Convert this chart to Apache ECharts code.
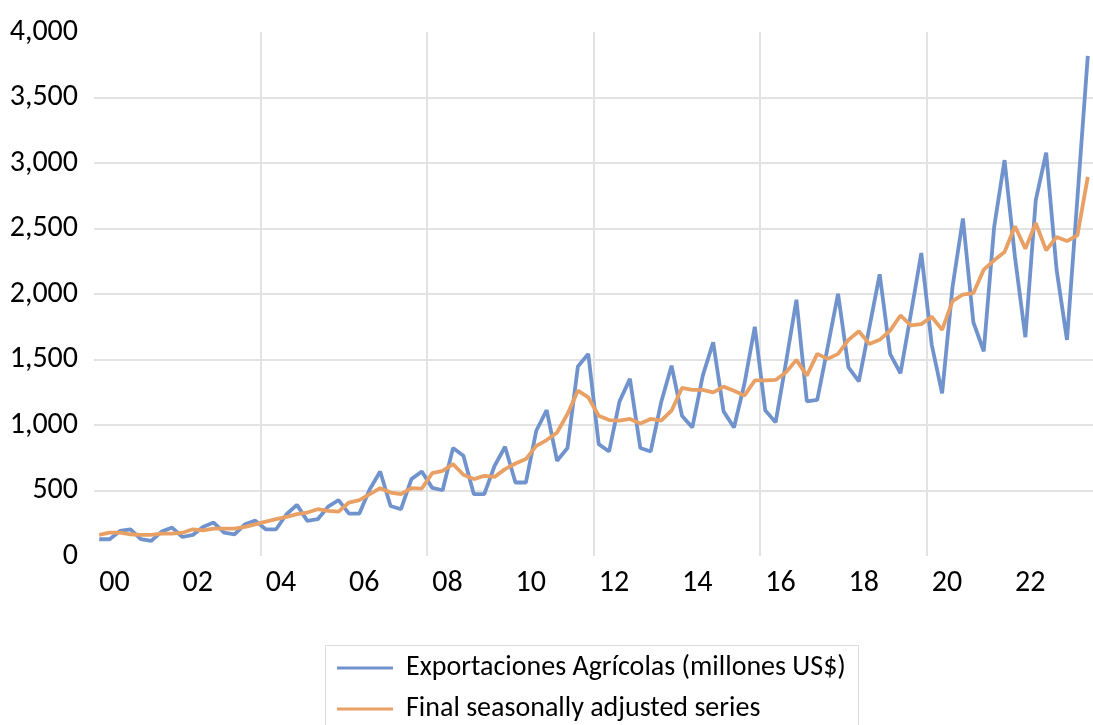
<!DOCTYPE html>
<html>
<head>
<meta charset="utf-8">
<title>Exportaciones Agrícolas</title>
<script src="https://cdn.jsdelivr.net/npm/echarts@6/dist/echarts.min.js"></script>
<style>
  html, body { margin: 0; padding: 0; background: #fff; }
  #chart { width: 1093px; height: 725px; }
</style>
</head>
<body>
<div id="chart"></div>
<script>
// quarters 2000Q1 .. 2023Q4
const years = ["00", "01", "02", "03", "04", "05", "06", "07", "08", "09", "10", "11",
  "12", "13", "14", "15", "16", "17", "18", "19", "20", "21", "22", "23"];
const quarters = [];
years.forEach(y => {
  for (let q = 1; q <= 4; q++) quarters.push(y + "Q" + q);
});

// Exportaciones Agrícolas (millones US$)
const exportaciones = [
  128, 128, 191, 204, 128, 115, 186, 217, 145, 161, 224, 255,
  178, 166, 242, 270, 204, 204, 319, 390, 268, 281, 377, 426,
  324, 324, 510, 645, 382, 357, 587, 645, 520, 502, 824, 765,
  472, 472, 689, 834, 561, 561, 956, 1114, 727, 824, 1446, 1543,
  854, 798, 1180, 1352, 824, 798, 1173, 1453, 1071, 981, 1377, 1632,
  1104, 981, 1313, 1750, 1112, 1020, 1479, 1956, 1180, 1191, 1593, 2002,
  1440, 1333, 1742, 2150, 1543, 1395, 1849, 2313, 1614, 1242, 2053, 2576,
  1785, 1563, 2512, 3022, 2282, 1670, 2716, 3078, 2186, 1650, 2730, 3817
];

// Final seasonally adjusted series
const ajustada = [
  161, 178, 178, 166, 161, 161, 171, 171, 178, 204, 196, 209,
  209, 209, 222, 242, 262, 281, 298, 319, 332, 357, 344, 339,
  408, 426, 472, 518, 484, 472, 518, 515, 632, 650, 701, 620,
  587, 612, 604, 663, 706, 740, 841, 885, 943, 1084, 1262, 1211,
  1071, 1038, 1033, 1046, 1012, 1046, 1033, 1109, 1283, 1268, 1268, 1249,
  1293, 1262, 1224, 1340, 1340, 1344, 1402, 1497, 1377, 1543, 1505, 1543,
  1650, 1716, 1619, 1650, 1721, 1836, 1760, 1770, 1826, 1726, 1945, 1996,
  2006, 2186, 2257, 2320, 2517, 2346, 2542, 2333, 2435, 2404, 2448, 2894
];

const seriesNames = ["Exportaciones Agrícolas (millones US$)", "Final seasonally adjusted series"];
const yTicks = [0, 500, 1000, 1500, 2000, 2500, 3000, 3500, 4000];

const FONT = "Carlito, Lato, sans-serif";
const GRID = "#e3e3e3";

// one legend per row, so the rows stack like the Excel legend
function legendRow(name, top) {
  return {
    left: 337,
    top: top,
    padding: 0,
    itemWidth: 56,
    itemHeight: 3,
    icon: "rect",
    textStyle: {
      fontFamily: FONT,
      fontSize: 28,
      lineHeight: 30,
      color: "#000",
      padding: [0, 0, 0, 8]
    },
    data: [name]
  };
}

const chart = echarts.init(document.getElementById("chart"));

chart.setOption({
  animation: false,
  textStyle: { fontFamily: FONT },
  color: ["#7093cd", "#e9a064"],
  grid: { left: 94, right: 0, top: 32, bottom: 169 },
  graphic: [
    {
      type: "rect",
      shape: { x: 325.5, y: 645.5, width: 533, height: 100 },
      style: { fill: "none", stroke: "#d9d9d9", lineWidth: 1 },
      silent: true
    }
  ],
  legend: [legendRow(seriesNames[0], 653), legendRow(seriesNames[1], 694)],
  xAxis: [
    {
      type: "category",
      data: quarters,
      boundaryGap: true,
      axisLine: { show: false },
      axisTick: { show: false },
      splitLine: { show: false },
      axisLabel: {
        interval: 7,
        align: "left",
        margin: 12,
        fontFamily: FONT,
        fontSize: 30,
        color: "#000",
        formatter: v => v.slice(0, 2)
      }
    },
    {
      // helper axis only for the vertical gridlines every 4 years (16 quarters)
      type: "value",
      position: "top",
      min: 0,
      max: quarters.length,
      interval: 16,
      axisLine: { show: false },
      axisTick: { show: false },
      axisLabel: { show: false },
      splitLine: {
        show: true,
        showMinLine: false,
        showMaxLine: false,
        lineStyle: { color: GRID, width: 2 }
      }
    }
  ],
  yAxis: {
    type: "value",
    min: yTicks[0],
    max: yTicks[yTicks.length - 1],
    interval: 500,
    axisLine: { show: false },
    axisTick: { show: false },
    splitLine: {
      showMinLine: false,
      showMaxLine: false,
      lineStyle: { color: GRID, width: 2 }
    },
    axisLabel: {
      margin: 16,
      fontFamily: FONT,
      fontSize: 30,
      color: "#000",
      formatter: v => v.toLocaleString("en-US")
    }
  },
  series: [
    {
      name: seriesNames[0],
      type: "line",
      data: exportaciones,
      showSymbol: false,
      lineStyle: { width: 3.8 },
      z: 2
    },
    {
      name: seriesNames[1],
      type: "line",
      data: ajustada,
      showSymbol: false,
      lineStyle: { width: 3.8 },
      z: 3
    }
  ]
});
</script>
</body>
</html>
